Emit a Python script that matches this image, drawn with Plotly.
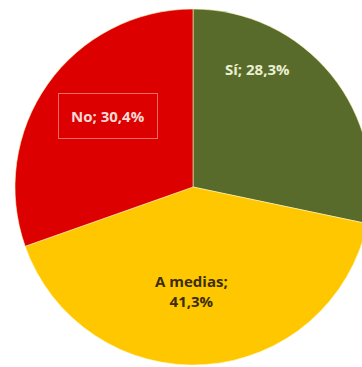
import plotly.graph_objects as go

# Survey answers and their shares (%)
labels = ["Sí", "A medias", "No"]
values = [28.3, 41.3, 30.4]
colors = ["#596B2B", "#FFC700", "#DC0000"]

W, H = 372, 367

fig = go.Figure(
    go.Pie(
        labels=labels,
        values=values,
        sort=False,
        direction="clockwise",
        rotation=0,
        marker=dict(colors=colors, line=dict(color="rgba(255,250,190,0.55)", width=1)),
        textinfo="none",
        hoverinfo="label+percent",
        domain=dict(x=[15 / W, 371 / W], y=[2 / H, 358 / H]),
        showlegend=False,
    )
)


def fmt(label, value, sep=" "):
    return f"{label};{sep}{value:.1f}%".replace(".", ",")


font_family = "Open Sans, Liberation Sans, sans-serif"

# data label positions (pixels from top-left of the figure)
label_pos = {
    "Sí": (257, 69),
    "A medias": (191, 291),
    "No": (108, 116),
}
label_style = {
    "Sí": dict(font=dict(color="#E9F0D2", size=15, family=font_family)),
    "A medias": dict(font=dict(color="#3B2E05", size=15, family=font_family)),
    "No": dict(
        font=dict(color="#FBD9D6", size=15, family=font_family),
        bordercolor="#F06A66",
        borderwidth=1,
        borderpad=12,
    ),
}

for lab, val in zip(labels, values):
    px, py = label_pos[lab]
    text = fmt(lab, val, "<br>" if lab == "A medias" else " ")
    fig.add_annotation(
        x=px / W,
        y=1 - py / H,
        xref="paper",
        yref="paper",
        text=f"<b>{text}</b>",
        showarrow=False,
        xanchor="center",
        yanchor="middle",
        align="center",
        **label_style[lab],
    )

fig.update_layout(
    width=W,
    height=H,
    margin=dict(l=0, r=0, t=0, b=0),
    paper_bgcolor="white",
    plot_bgcolor="white",
)

fig.write_html(
    "out.html",
    post_script="document.body.style.margin='0';document.body.style.overflow='hidden';",
)
